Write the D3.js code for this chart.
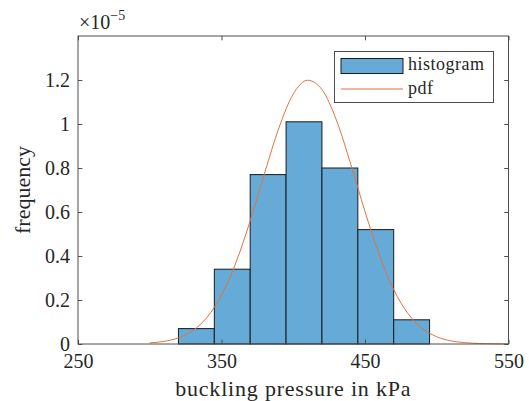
<!DOCTYPE html>
<html>
<head>
<meta charset="utf-8">
<script src="https://cdn.jsdelivr.net/npm/d3@7"></script>
<style>
  html, body { margin: 0; padding: 0; background: #fff; }
  svg { display: block; font-family: "Liberation Serif", "Times New Roman", serif; }
  .tick text { fill: #262626; }
</style>
</head>
<body>
<div id="container"></div>
<script>
// values (frequency in units of 1e-5)
const binEdges = [320, 345, 370, 395, 420, 445, 470, 495];
const binValues = [0.07, 0.34, 0.77, 1.01, 0.80, 0.52, 0.11];

const pdfX = [300, 310, 320, 330, 340, 350, 360, 370, 380, 390, 400, 410, 420,
              430, 440, 450, 460, 470, 480, 490, 500, 510, 520, 530, 540, 550];
const pdfY = [0.005, 0.012, 0.028, 0.061, 0.122, 0.222, 0.369, 0.560, 0.776, 0.982, 1.136, 1.199, 1.157,
              1.019, 0.819, 0.602, 0.404, 0.247, 0.138, 0.071, 0.033, 0.014, 0.006, 0.002, 0.001, 0.0002];

const xTicks = [250, 350, 450, 550];
const yTicks = [0, 0.2, 0.4, 0.6, 0.8, 1, 1.2];
const legendLabels = ['histogram', 'pdf'];

const width = 529, height = 401;
const plotLeft = 78, plotRight = 508.5, plotTop = 36, plotBottom = 344;
const tickLen = 4.3;
const axisColor = '#4d4d4d';
const barColor = 'rgb(102,170,215)';
const lineColor = '#e0733f';

const svg = d3.select('#container').append('svg')
    .attr('width', width)
    .attr('height', height)
    .attr('viewBox', [0, 0, width, height]);

const x = d3.scaleLinear().domain([250, 550]).range([plotLeft, plotRight]);
const y = d3.scaleLinear().domain([0, 1.4]).range([plotBottom, plotTop]);

// bars
const bins = binValues.map((v, i) => ({x0: binEdges[i], x1: binEdges[i + 1], v: v}));
svg.append('g')
    .selectAll('rect')
    .data(bins)
    .join('rect')
        .attr('x', d => x(d.x0))
        .attr('y', d => y(d.v))
        .attr('width', d => x(d.x1) - x(d.x0))
        .attr('height', d => y(0) - y(d.v))
        .attr('fill', barColor)
        .attr('stroke', '#1a1a1a')
        .attr('stroke-width', 1);

// pdf curve
const line = d3.line()
    .x((d, i) => x(d))
    .y((d, i) => y(pdfY[i]))
    .curve(d3.curveMonotoneX);

svg.append('path')
    .datum(pdfX)
    .attr('d', line)
    .attr('fill', 'none')
    .attr('stroke', lineColor)
    .attr('stroke-width', 1);

// axes (ticks point inward, like the box style)
function styleAxis(g) {
    g.select('.domain').remove();
    g.selectAll('.tick line').attr('stroke', axisColor);
    g.selectAll('.tick text').attr('font-size', 20).attr('font-family', '"Liberation Serif", serif');
}

svg.append('g')
    .attr('transform', `translate(0,${plotBottom})`)
    .call(d3.axisBottom(x).tickValues(xTicks).tickSize(-tickLen).tickPadding(10))
    .call(styleAxis);

svg.append('g')
    .attr('transform', `translate(0,${plotTop})`)
    .call(d3.axisTop(x).tickValues(xTicks).tickSize(-tickLen).tickFormat(''))
    .call(styleAxis);

svg.append('g')
    .attr('transform', `translate(${plotLeft},0)`)
    .call(d3.axisLeft(y).tickValues(yTicks).tickSize(-tickLen).tickPadding(8).tickFormat(d3.format('~g')))
    .call(styleAxis);

svg.append('g')
    .attr('transform', `translate(${plotRight},0)`)
    .call(d3.axisRight(y).tickValues(yTicks).tickSize(-tickLen).tickFormat(''))
    .call(styleAxis);

// box
svg.append('rect')
    .attr('x', plotLeft)
    .attr('y', plotTop)
    .attr('width', plotRight - plotLeft)
    .attr('height', plotBottom - plotTop)
    .attr('fill', 'none')
    .attr('stroke', axisColor)
    .attr('stroke-width', 1);

// exponent
const expo = svg.append('text')
    .attr('x', 79)
    .attr('y', 29)
    .attr('fill', '#262626')
    .attr('font-size', 20);
expo.append('tspan').text('×10');
expo.append('tspan').attr('font-size', 14).attr('dy', -9).text('−5');

// axis labels
svg.append('text')
    .attr('x', (plotLeft + plotRight) / 2)
    .attr('y', 395.5)
    .attr('text-anchor', 'middle')
    .attr('font-size', 22)
    .attr('letter-spacing', 0.8)
    .attr('fill', '#262626')
    .text('buckling pressure in kPa');

svg.append('text')
    .attr('transform', 'translate(30,190) rotate(-90)')
    .attr('text-anchor', 'middle')
    .attr('font-size', 22)
    .attr('fill', '#262626')
    .text('frequency');

// legend
const legend = svg.append('g');
legend.append('rect')
    .attr('x', 334.5).attr('y', 51.5)
    .attr('width', 159).attr('height', 51)
    .attr('fill', '#fff')
    .attr('stroke', axisColor)
    .attr('stroke-width', 1);
legend.append('rect')
    .attr('x', 341).attr('y', 58.5)
    .attr('width', 62).attr('height', 15)
    .attr('fill', barColor)
    .attr('stroke', '#1a1a1a');
legend.append('line')
    .attr('x1', 341).attr('x2', 403)
    .attr('y1', 89).attr('y2', 89)
    .attr('stroke', lineColor)
    .attr('stroke-width', 1);
legend.selectAll('text.lbl')
    .data(legendLabels)
    .join('text')
        .attr('class', 'lbl')
        .attr('x', 408)
        .attr('y', (d, i) => i === 0 ? 69.5 : 93.5)
        .attr('font-size', 18)
        .attr('letter-spacing', 0.5)
        .attr('fill', '#262626')
        .text(d => d);
</script>
</body>
</html>
